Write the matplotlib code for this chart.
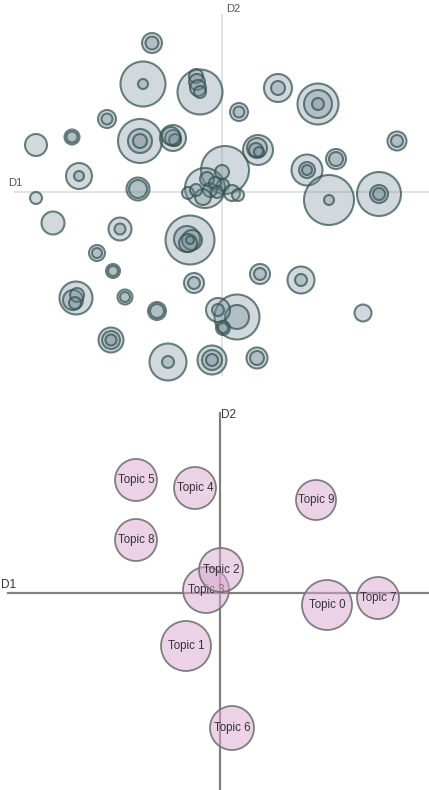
import matplotlib
matplotlib.use("Agg")
import matplotlib.pyplot as plt
from matplotlib.patches import Circle

plt.rcParams['font.family'] = ['Liberation Sans', 'DejaVu Sans']

# ---------------- Term-level map (top): D1/D2 coordinates and radii ----------------
term_x = [-70, -70, -79, -79, -22, -26, -25, -24, -22, -115, -115, -186, -150, -150,
          -82, -82, -82, -49, -49, -47, -51, -143, -143, -84, -84, -186,
          56, 56, 96, 96, 96, 17, 17, 175, 175, 36, 35, 34, 37, 114, 114,
          85, 85, 85, 107, 107, 157, 157, 157,
          3, -17, -34, -15, 0, 1, -12, -19, 10, 16, -7, -5, -26,
          -169, -102, -102, -32, -35, -30, -34, -32, -125, -125, -109, -109,
          -146, -149, -145, -147, -97, -97, -65, -65, -28, -28, -111, -111, -111,
          -54, -54, -10, -10, -10, 38, 38, 79, 79, 141, 15, 15, -4, -4, 1, 1, 35, 35]
term_y = [149, 149, 108, 108, 100, 116, 110, 104, 100, 73, 73, 47, 55, 55,
          51, 51, 51, 54, 54, 52, 56, 16, 16, 3, 3, -6,
          104, 104, 88, 88, 88, 80, 80, 51, 51, 42, 44, 42, 40, 33, 33,
          22, 22, 22, -8, -8, -2, -2, -2,
          22, 4, -1, 13, 20, 7, 2, -5, -1, -3, 9, 0, 2,
          -31, -37, -37, -48, -47, -48, -51, -48, -61, -61, -79, -79,
          -106, -108, -103, -111, -105, -105, -119, -119, -91, -91, -148, -148, -148,
          -170, -170, -168, -168, -168, -82, -82, -88, -88, -121, -125, -125, -118, -118, -136, -136, -166, -166]
term_r = [10, 6.5, 22.5, 5, 22.5, 7, 8, 8, 6, 9, 5.5, 11, 7.5, 5.5,
          22, 12, 7, 13, 8, 6, 9, 13, 5, 11.5, 9, 6,
          14, 7, 20.5, 14, 6, 9, 5.5, 9.5, 6, 15, 10, 7, 5, 10, 7,
          15.5, 8, 5, 25, 5, 22, 9, 6,
          24, 20, 6, 7, 7, 6, 7, 8, 8, 6, 6, 6, 6,
          11.5, 11.5, 5.5, 24.5, 13, 10, 9, 4, 8, 5, 7, 5,
          16.5, 10, 7, 6, 7.5, 5, 9, 7, 10, 6, 12.5, 9, 5.5,
          18.5, 6, 14.5, 10, 6, 10, 6, 13.5, 6, 8.5, 22.5, 12, 12, 6, 7, 5, 10.5, 7]

# ---------------- Topic map (bottom) ----------------
topic_names = ["Topic 5", "Topic 4", "Topic 8", "Topic 9", "Topic 0", "Topic 7",
               "Topic 1", "Topic 6", "Topic 3", "Topic 2"]
topic_x = [-84, -25, -84, 96, 107, 158, -34, 12, -14, 1]
topic_y = [113, 105, 53, 93, -12, -5, -53, -135, 3, 23]
topic_r = [21, 21, 21, 20, 25, 21, 25, 22, 23, 22]

W, H = 429, 790
fig = plt.figure(figsize=(W / 100, H / 100), dpi=100)
fig.patch.set_facecolor("white")

# Top panel
ax1 = fig.add_axes([0, 395 / 790, 1, 395 / 790])
ax1.set_xlim(-222, 207)
ax1.set_ylim(-203, 192)
ax1.set_aspect("equal")
ax1.axis("off")
ax1.plot([-207, 207], [0, 0], color="#e3e3e3", lw=1.5, zorder=1)
ax1.plot([0, 0], [-183, 177], color="#e3e3e3", lw=1.5, zorder=1)
ax1.text(-214, 4, "D1", fontsize=8, color="#555555", ha="left", va="bottom")
ax1.text(4, 178, "D2", fontsize=8, color="#555555", ha="left", va="bottom")
for x, y, r in zip(term_x, term_y, term_r):
    ax1.add_patch(Circle((x, y), r, facecolor=(0.45, 0.54, 0.60, 0.32),
                         edgecolor=(0.20, 0.32, 0.30, 0.72), lw=1.5, zorder=2))

# Bottom panel
ax2 = fig.add_axes([0, 0, 1, 395 / 790])
ax2.set_xlim(-220, 209)
ax2.set_ylim(-197, 198)
ax2.set_aspect("equal")
ax2.axis("off")
ax2.plot([-212, 209], [0, 0], color="#808080", lw=1.6, zorder=1)
ax2.plot([0, 0], [-197, 180], color="#808080", lw=1.6, zorder=1)
ax2.text(-219, 2, "D1", fontsize=8.5, color="#333333", ha="left", va="bottom")
ax2.text(1, 172, "D2", fontsize=8.5, color="#333333", ha="left", va="bottom")
z = 2
for name, x, y, r in zip(topic_names, topic_x, topic_y, topic_r):
    ax2.add_patch(Circle((x, y), r, facecolor=(0.85, 0.65, 0.81, 0.50),
                         edgecolor=(0.45, 0.45, 0.45, 0.9), lw=1.3, zorder=z))
    ax2.text(x, y, name, fontsize=8.3, color="#333333", ha="center", va="center",
             zorder=z + 0.5)
    z += 1

fig.savefig("out.png", dpi=100, facecolor="white")
